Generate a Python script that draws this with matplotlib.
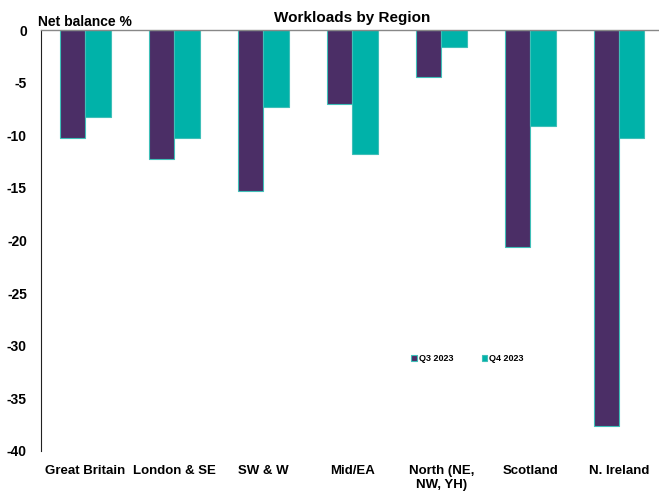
import matplotlib
matplotlib.use("Agg")
import matplotlib.pyplot as plt
import numpy as np

plt.rcParams["font.family"] = ["Liberation Sans", "DejaVu Sans"]
plt.rcParams["font.weight"] = "bold"
plt.rcParams["axes.unicode_minus"] = False

regions = ["Great Britain", "London & SE", "SW & W", "Mid/EA",
           "North (NE,\nNW, YH)", "Scotland", "N. Ireland"]
q3_2023 = [-10.3, -12.3, -15.3, -7.0, -4.5, -20.6, -37.6]
q4_2023 = [-8.3, -10.3, -7.3, -11.8, -1.6, -9.1, -10.3]

PURPLE = "#4B2E66"
TEAL = "#00B2A9"

fig = plt.figure(figsize=(6.59, 5.0), dpi=100)
ax = fig.add_axes([0.062, 0.098, 0.945, 0.842])

x = np.arange(len(regions))
w = 0.285
ax.bar(x - w / 2, q3_2023, w, color=PURPLE, edgecolor="#3FBFB8", linewidth=0.8,
       label="Q3 2023", zorder=2)
ax.bar(x + w / 2, q4_2023, w, color=TEAL, edgecolor="#3FBFB8", linewidth=0.8,
       label="Q4 2023", zorder=2)

ax.set_xlim(-0.5, len(regions) - 0.5)
ax.set_ylim(-40, 0)
ax.set_yticks(range(-40, 1, 5))
ax.tick_params(axis="y", length=0, labelsize=10, pad=10)
ax.tick_params(axis="x", length=0, labelsize=9.5, pad=10)
ax.set_xticks(x)
ax.set_xticklabels(regions)

for s in ("right", "bottom"):
    ax.spines[s].set_visible(False)
ax.spines["top"].set_color("#888888")
ax.spines["top"].set_linewidth(1.0)
ax.spines["left"].set_color("#222222")
ax.spines["left"].set_linewidth(0.8)

ax.set_title("Workloads by Region", fontsize=11, fontweight="bold", pad=6)
fig.text(0.058, 0.956, "Net balance %", fontsize=10, fontweight="bold",
         ha="left", va="center")

ax.legend(loc="center", bbox_to_anchor=(0.685, 0.22), ncol=2, frameon=False,
          fontsize=6.5, handlelength=0.6, handleheight=0.6, handletextpad=0.2,
          columnspacing=3.2)

fig.savefig("out.png", dpi=100, facecolor="white")
